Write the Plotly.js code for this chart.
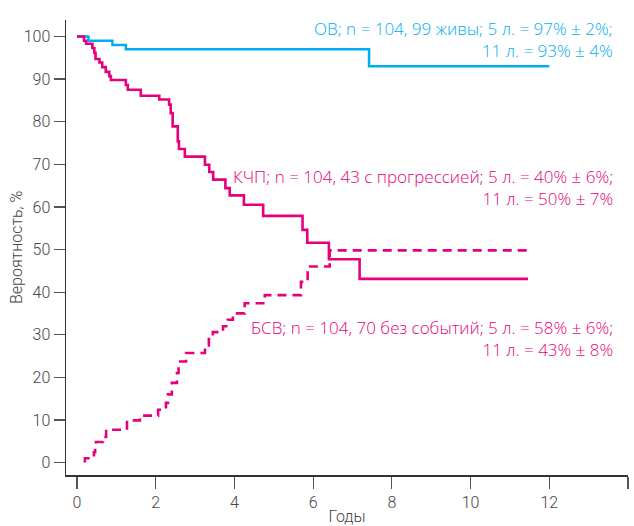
<!DOCTYPE html>
<html>
<head>
<meta charset="utf-8">
<script src="https://cdn.plot.ly/plotly-3.0.1.min.js"></script>
<style>html,body{margin:0;padding:0;background:#fff;}</style>
</head>
<body>
<div id="chart" style="width:634px;height:526px;"></div>
<script>
// Overall survival (ОВ)
const osTimes  = [0, 0.29, 0.90, 1.24, 7.42, 12.0];
const osValues = [100, 99, 98, 97, 93, 93];

// Progression-free (КЧП) – solid
const pfsTimes  = [0, 0.18, 0.23, 0.39, 0.44, 0.47, 0.57, 0.64, 0.73, 0.82, 0.86, 1.24, 1.29, 1.62, 2.09, 2.34, 2.38, 2.43, 2.56, 2.59, 2.74, 3.25, 3.36, 3.46, 3.77, 3.88, 4.24, 4.73, 5.73, 5.85, 6.40, 7.18, 11.46];
const pfsValues = [100, 99, 98.3, 97.3, 96.2, 94.7, 93.9, 92.8, 91.7, 90.7, 89.8, 88.6, 87.5, 86.1, 85.2, 84, 82, 78.9, 75.4, 73.6, 71.8, 69.9, 68.2, 66.4, 64.4, 62.7, 60.5, 57.9, 54.6, 51.6, 47.7, 43.1, 43.1];

// Cumulative events (БСВ) – dashed
const efsTimes  = [0.20, 0.20, 0.43, 0.46, 0.48, 0.66, 0.74, 1.27, 1.60, 2.06, 2.26, 2.31, 2.41, 2.54, 2.58, 2.77, 3.25, 3.35, 3.45, 3.71, 3.83, 3.96, 4.26, 4.77, 5.69, 5.86, 6.42, 11.45];
const efsValues = [0, 1.0, 2.4, 3.6, 4.8, 6.0, 7.7, 9.9, 11.0, 12.4, 14.0, 16.0, 18.7, 21.0, 23.7, 25.7, 27.5, 29.0, 30.6, 32.0, 33.5, 35.0, 37.4, 39.3, 42.4, 46.0, 49.8, 49.8];

const xTicks = [0, 2, 4, 6, 8, 10, 12, 14];
const yTicks = [0, 10, 20, 30, 40, 50, 60, 70, 80, 90, 100];

const labelTexts = [
  "ОВ; n = 104, 99 живы; 5 л. = 97% ± 2%;<br>11 л. = 93% ± 4%",
  "КЧП; n = 104, 43 с прогрессией; 5 л. = 40% ± 6%;<br>11 л. = 50% ± 7%",
  "БСВ; n = 104, 70 без событий; 5 л. = 58% ± 6%;<br>11 л. = 43% ± 8%"
];
const labelY = [99.4, 64.5, 29.0];

const cyan = '#00AEEF';
const pink = '#E5007D';
const labelColors = [cyan, pink, pink];
const FONT = 'Roboto, "Liberation Sans", sans-serif';
const LFONT = '"Open Sans", Roboto, sans-serif';

const traces = [
  {x: osTimes, y: osValues, mode: 'lines', line: {shape: 'hv', color: cyan, width: 2.5}},
  {x: pfsTimes, y: pfsValues, mode: 'lines', line: {shape: 'hv', color: pink, width: 2.6}},
  {x: efsTimes, y: efsValues, mode: 'lines', line: {shape: 'hv', color: pink, width: 2.6, dash: '9px,6px'}}
];

const annotations = labelTexts.map((t, i) => ({
  text: t, x: 13.68, y: labelY[i], xref: 'x', yref: 'y',
  xanchor: 'right', yanchor: 'middle', align: 'right', showarrow: false,
  font: {family: LFONT, size: 17, color: labelColors[i], weight: 300}
}));
annotations.push({
  text: 'Вероятность, %', x: -0.088, y: 0.5, xref: 'paper', yref: 'paper',
  xanchor: 'center', yanchor: 'middle', textangle: -90, showarrow: false,
  font: {family: FONT, size: 16, color: '#444', weight: 300}
});

const layout = {
  width: 634, height: 526,
  margin: {l: 66, r: 6, t: 20, b: 51},
  paper_bgcolor: '#fff', plot_bgcolor: '#fff',
  showlegend: false,
  font: {family: FONT, size: 16, color: '#444', weight: 300},
  xaxis: {
    range: [-0.28, 14.0], tickvals: xTicks, ticktext: xTicks.map(String),
    showgrid: false, zeroline: false, showline: true, linecolor: '#333', linewidth: 1.5,
    ticks: 'outside', ticklen: 12, tickwidth: 1.2, tickcolor: '#555',
    tickfont: {family: FONT, size: 16, color: '#444', weight: 300},
    title: {text: 'Годы', standoff: 6, font: {family: FONT, size: 16, color: '#444', weight: 300}}
  },
  yaxis: {
    range: [-2.93, 103.87], tickvals: yTicks, ticktext: yTicks.map(String),
    showgrid: false, zeroline: false, showline: true, linecolor: '#333', linewidth: 1.5,
    ticks: 'outside', ticklen: 11, tickwidth: 1.2, tickcolor: '#555',
    tickfont: {family: FONT, size: 16, color: '#444', weight: 300}
  },
  annotations: annotations
};

Plotly.newPlot('chart', traces, layout, {displayModeBar: false, staticPlot: true});
</script>
</body>
</html>
